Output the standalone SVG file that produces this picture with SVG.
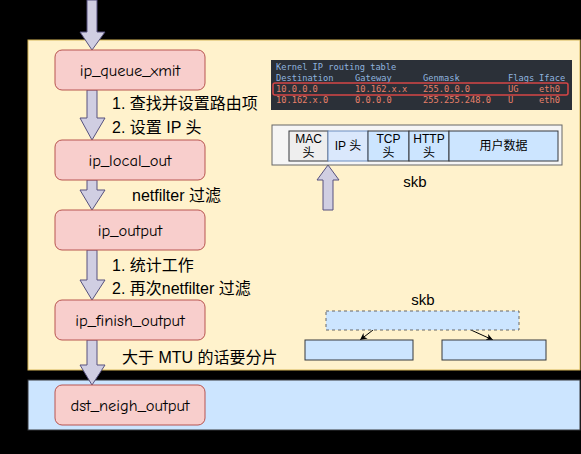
<svg xmlns="http://www.w3.org/2000/svg" width="581" height="454" viewBox="0 0 581 454">
<defs>
<style>
.node{fill:#f8cecc;stroke:#b85450;stroke-width:1}
.nt{font-family:"Comic Neue","Liberation Sans",sans-serif;font-size:16.5px;fill:#000;text-anchor:middle;dominant-baseline:central}
.lab{font-family:"Liberation Sans","Noto Sans CJK SC",sans-serif;font-size:16px;fill:#000}
.barrow{fill:#d0cee2;stroke:#56517e;stroke-width:1}
.mono{font-family:"DejaVu Sans Mono",monospace;font-size:8.7px}
.cell{stroke:#36393d;stroke-width:1;fill:#cce5ff}
.ct{font-family:"Liberation Sans","Noto Sans CJK SC",sans-serif;font-size:12px;text-anchor:middle;fill:#000}
.skb{font-family:"Liberation Sans",sans-serif;font-size:15px;text-anchor:middle;fill:#000}
</style>
<marker id="ah" markerWidth="8" markerHeight="8" refX="7" refY="4" orient="auto" markerUnits="userSpaceOnUse">
<path d="M0,0.5 L7,4 L0,7.5 L2,4 Z" fill="#000"/>
</marker>
</defs>
<rect x="0" y="0" width="581" height="454" fill="#000"/>
<g id="container-ip">
<rect x="28" y="40" width="552" height="330" fill="#fff2cc" stroke="#d6b656"/>
</g>
<g id="container-neigh">
<rect x="28" y="380" width="552" height="50" fill="#cce5ff" stroke="#36393d"/>
</g>
<g id="connectors">
<path class="barrow" d="M87,0 L97,0 L97,32 L105,32 L92,50 L80,32 L87,32 Z"/>
<path class="barrow" d="M87,90 L97,90 L97,118 L105,118 L92,140 L80,118 L87,118 Z"/>
<path class="barrow" d="M87,180 L97,180 L97,190 L105,190 L92,210 L80,190 L87,190 Z"/>
<path class="barrow" d="M87,250 L97,250 L97,280 L105,280 L92,300 L80,280 L87,280 Z"/>
<path class="barrow" d="M87,340 L97,340 L97,365 L105,365 L92,385 L80,365 L87,365 Z"/>
<path class="barrow" d="M323,210 L333,210 L333,180 L339,180 L328,165 L317,180 L323,180 Z"/>
<line x1="373" y1="330" x2="360" y2="340" stroke="#000" stroke-width="1" marker-end="url(#ah)"/>
<line x1="471" y1="330" x2="493" y2="340" stroke="#000" stroke-width="1" marker-end="url(#ah)"/>
</g>
<g id="ip_queue_xmit">
<rect class="node" x="55" y="50" width="150" height="40" rx="7"/>
<text class="nt" x="130" y="70">ip_queue_xmit</text>
</g>
<g id="ip_local_out">
<rect class="node" x="55" y="140" width="150" height="40" rx="7"/>
<text class="nt" x="130" y="160">ip_local_out</text>
</g>
<g id="ip_output">
<rect class="node" x="55" y="210" width="150" height="40" rx="7"/>
<text class="nt" x="130" y="230">ip_output</text>
</g>
<g id="ip_finish_output">
<rect class="node" x="55" y="300" width="150" height="40" rx="7"/>
<text class="nt" x="130" y="320">ip_finish_output</text>
</g>
<g id="dst_neigh_output">
<rect class="node" x="55" y="385" width="150" height="40" rx="7"/>
<text class="nt" x="130" y="405">dst_neigh_output</text>
</g>
<g id="labels">
<text class="lab" x="112" y="109">1. 查找并设置路由项</text>
<text class="lab" x="112" y="133">2. 设置 IP 头</text>
<text class="lab" x="132" y="201">netfilter 过滤</text>
<text class="lab" x="112" y="271">1. 统计工作</text>
<text class="lab" x="112" y="294">2. 再次netfilter 过滤</text>
<text class="lab" x="122" y="363">大于 MTU 的话要分片</text>
</g>
<g id="routing-table">
<rect x="271" y="60" width="301" height="50" fill="#2b3038"/>
<text class="mono" x="276" y="70" fill="#8fb3df">Kernel IP routing table</text>
<text class="mono" fill="#8fb3df" y="81"><tspan x="276">Destination</tspan><tspan x="355">Gateway</tspan><tspan x="423">Genmask</tspan><tspan x="508">Flags</tspan><tspan x="539">Iface</tspan></text>
<text class="mono" fill="#e8806a" y="92"><tspan x="276">10.0.0.0</tspan><tspan x="355">10.162.x.x</tspan><tspan x="423">255.0.0.0</tspan><tspan x="508">UG</tspan><tspan x="539">eth0</tspan></text>
<text class="mono" fill="#e8806a" y="103"><tspan x="276">10.162.x.0</tspan><tspan x="355">0.0.0.0</tspan><tspan x="423">255.255.248.0</tspan><tspan x="508">U</tspan><tspan x="539">eth0</tspan></text>
<rect x="273" y="83" width="295" height="12" rx="2" fill="none" stroke="#d64545" stroke-width="1.5"/>
</g>
<g id="skb-top">
<rect x="272" y="125" width="290" height="40" fill="#f5f5f5" stroke="#666"/>
<rect x="289" y="131" width="39" height="30" fill="#eeeeee" stroke="#36393d"/>
<rect x="328" y="131" width="40" height="30" fill="#dae8fc" stroke="#6c8ebf"/>
<rect class="cell" x="368" y="131" width="41" height="30"/>
<rect class="cell" x="409" y="131" width="40" height="30"/>
<rect class="cell" x="449" y="131" width="109" height="30"/>
<text class="ct" x="308.5" y="143">MAC</text>
<text class="ct" x="308.5" y="157">头</text>
<text class="ct" x="348" y="150">IP 头</text>
<text class="ct" x="388.5" y="143">TCP</text>
<text class="ct" x="388.5" y="157">头</text>
<text class="ct" x="429" y="143">HTTP</text>
<text class="ct" x="429" y="157">头</text>
<text class="ct" x="503.5" y="150">用户数据</text>
<text class="skb" x="415" y="187">skb</text>
</g>
<g id="skb-split">
<text class="skb" x="423" y="305">skb</text>
<rect x="326" y="311" width="193" height="19" fill="#cce5ff" stroke="#666" stroke-dasharray="3,3"/>
<rect x="305" y="340" width="108" height="20" fill="#cce5ff" stroke="#36393d"/>
<rect x="442" y="340" width="104" height="20" fill="#cce5ff" stroke="#36393d"/>
</g>
</svg>
